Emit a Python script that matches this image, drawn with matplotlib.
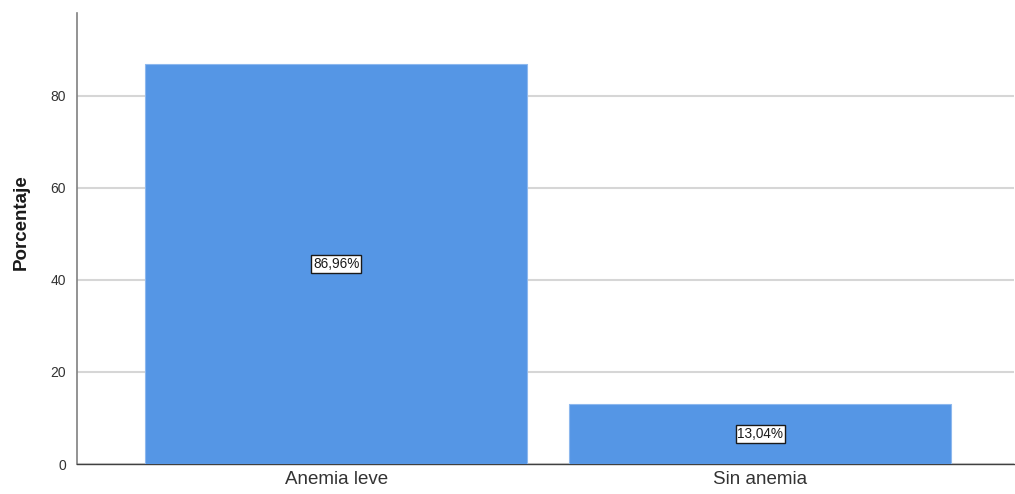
import matplotlib.pyplot as plt

categories = ["Anemia leve", "Sin anemia"]
percentages = [86.96, 13.04]
y_ticks = [0, 20, 40, 60, 80]

plt.rcParams["font.family"] = ["Liberation Sans", "DejaVu Sans"]

fig = plt.figure(figsize=(10.15, 4.94), dpi=100)
ax = fig.add_axes([0.0759, 0.0607, 0.9231, 0.913])

x = list(range(len(categories)))
ax.bar(x, percentages, width=0.9, color="#5596E5", edgecolor="#8DB8EE",
       linewidth=0.8, zorder=3)

for xi, value in zip(x, percentages):
    ax.text(xi, value / 2, f"{value:.2f}%".replace(".", ","),
            ha="center", va="center", fontsize=9.8, color="#1a1a1a", zorder=4,
            bbox=dict(boxstyle="square,pad=0.12", facecolor="white",
                      edgecolor="#1a1a1a", linewidth=1.0))

ax.set_xlim(-0.611, 1.598)
ax.set_ylim(0, 98)
ax.set_yticks(y_ticks)
ax.set_xticks(x)
ax.set_xticklabels(categories, fontsize=13.5, color="#333333")
ax.tick_params(axis="y", labelsize=10, labelcolor="#333333", length=0, pad=8)
ax.tick_params(axis="x", length=0, pad=5)
ax.yaxis.grid(True, color="#D6D6D6", linewidth=1.5, zorder=0)
ax.set_axisbelow(True)

for side in ["top", "right"]:
    ax.spines[side].set_visible(False)
ax.spines["left"].set_color("#808080")
ax.spines["left"].set_linewidth(1.2)
ax.spines["bottom"].set_color("#404040")
ax.spines["bottom"].set_linewidth(1.0)

fig.text(21 / 1015, 1 - 222 / 494, "Porcentaje", rotation=90, ha="center",
         va="center", fontsize=13.5, fontweight="bold", color="#1a1a1a")

fig.savefig("out.png", dpi=100)
